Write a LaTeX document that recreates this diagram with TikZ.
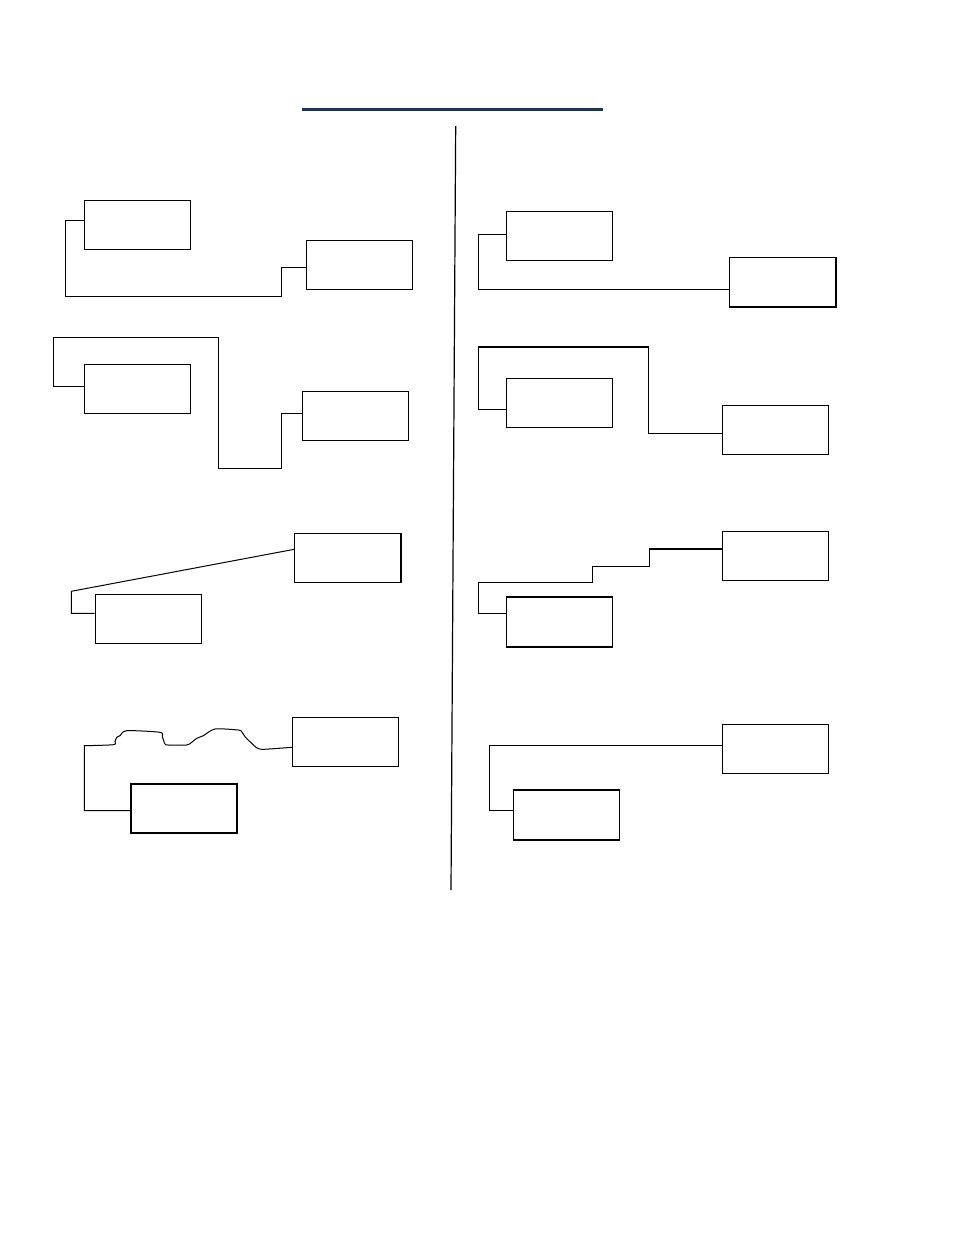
\documentclass[tikz,border=0pt]{standalone}
\usepackage{tikz}
\definecolor{titleblue}{HTML}{17375E}

\begin{document}
\begin{tikzpicture}[x=1pt,y=-1pt,line width=1pt,
	box/.style={draw,rectangle,minimum width=106pt,minimum height=49pt,inner sep=0pt},
	heavy/.style={line width=1.9pt}]
		\useasboundingbox (0,0) rectangle (954,1235);
		\draw [titleblue,line width=3pt] (302,109.3)--(603,109.3);
		\draw [line width=1.2pt] (455.7,126)--(451,890);
		\node [box] (a1) at (137.3,224.8) {};
		\node [box] (b1) at (359.3,264.8) {};
		\node [box] (a2) at (137.3,388.8) {};
		\node [box] (b2) at (355.8,415.8) {};
		\node [box] (a3) at (148,618.8) {};
		\node [box] (b3) at (347.8,557.8) {};
		\node [box,heavy] (a4) at (184,808.3) {};
		\node [box] (b4) at (345.3,741.8) {};
		\node [box] (c1) at (559.2,235.8) {};
		\node [box] (d1) at (782.7,282) {};
		\node [box] (c2) at (559.2,402.8) {};
		\node [box] (d2) at (775.5,429.8) {};
		\node [box] (c3) at (559.5,622.3) {};
		\node [box] (d3) at (775.3,555.8) {};
		\node [box] (c4) at (566.3,815.3) {};
		\node [box] (d4) at (775.3,748.8) {};
		\draw [heavy] (b3.north east)--(b3.south east);
		\draw [heavy] (d1.north east)--(d1.south east)--(d1.south west);
		\draw [heavy] (c3.north west)--(c3.north east) (c3.south west)--(c3.south east);
		\draw [heavy] (c4.north west)--(c4.north east) (c4.south west)--(c4.south east);
		\draw (a1.west |- 0,220.3) -| (65.3,296.3) -| (281.7,267.3) -- (b1.west |- 0,267.3);
		\draw (a2.west |- 0,386.3) -| (53.3,337.3) -| (218.3,468.3) -| (281.3,413.3) -- (b2.west |- 0,413.3);
		\draw (b3.west |- 0,549.3) -- (71.3,591.3) |- (a3.west |- 0,613.3);
		\draw plot [smooth,tension=0.45] coordinates {(b4.west |- 0,747.3) (263.3,749.3) (256.7,747.7) (250,741.7) (245,736.7) (241.7,731.7) (238.3,730) (215,729) (203.3,735.7) (196.7,738.3) (191.7,742.3) (186.7,745) (168.3,745) (165,744) (162.3,736.7) (160,732.3) (126.7,730.7) (120,735.7) (116.7,737.3) (115,741.7) (113.3,744.7) (84.3,745.7)} |- (a4.west |- 0,810.7);
		\draw (c1.west |- 0,234) -| (478,289) -- (d1.west |- 0,289);
		\draw (c2.west |- 0,409.3) -| (478,347.3) -| (648.7,433.3) -- (d2.west |- 0,433.3);
		\draw [heavy] (478,347.3)--(648.7,347.3);
		\draw (d3.west |- 0,549) -| (649,566.3) -| (592.7,582) -| (478,613.3) -- (c3.west |- 0,613.3);
		\draw [heavy] (d3.west |- 0,549)--(649,549);
		\draw (d4.west |- 0,745.3) -| (489.3,810.3) -- (c4.west |- 0,810.3);
	\end{tikzpicture}
\end{document}
